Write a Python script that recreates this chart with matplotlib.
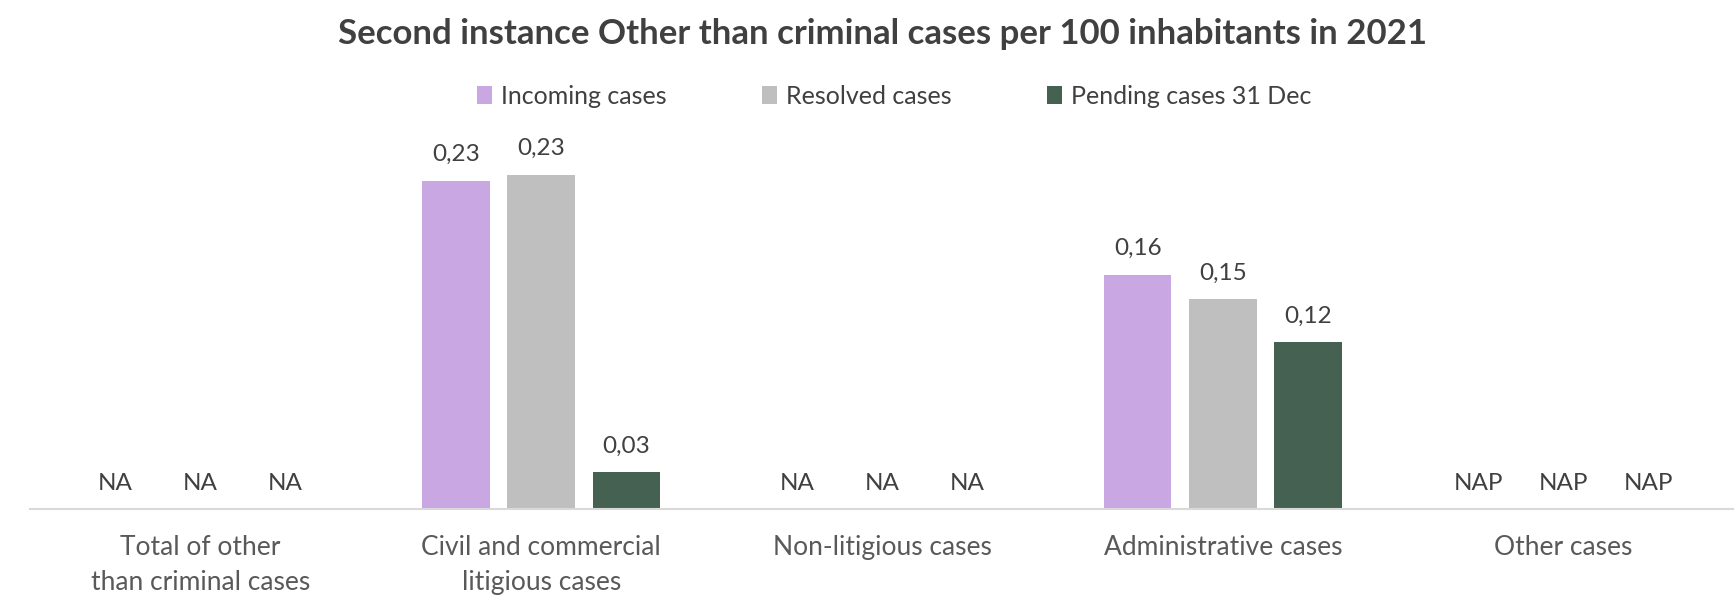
import numpy as np
import matplotlib
matplotlib.use("Agg")
import matplotlib.pyplot as plt
from matplotlib.patches import Patch

# Chart data (cases per 100 inhabitants, 2021)
categories = [
    "Total of other\nthan criminal cases",
    "Civil and commercial\nlitigious cases",
    "Non-litigious cases",
    "Administrative cases",
    "Other cases",
]
missing_text = ["NA", "", "NA", "", "NAP"]
incoming = [np.nan, 0.230, np.nan, 0.164, np.nan]
resolved = [np.nan, 0.234, np.nan, 0.147, np.nan]
pending = [np.nan, 0.026, np.nan, 0.117, np.nan]

series_names = ["Incoming cases", "Resolved cases", "Pending cases 31 Dec"]
colors = ["#C8A7E2", "#BFBFBF", "#456151"]

plt.rcParams["font.family"] = ["Lato", "DejaVu Sans"]
TEXT = "#404040"
LABEL = "#595959"

W, H = 1734, 595
fig = plt.figure(figsize=(W / 100, H / 100), dpi=100)
ax_left, ax_right = 30, 1734
ax_bottom, ax_top = 509, 130
ax = fig.add_axes([ax_left / W, (H - ax_bottom) / H,
                   (ax_right - ax_left) / W, (ax_bottom - ax_top) / H])

x = np.arange(len(categories))
offsets = [-0.25, 0.0, 0.25]
width = 0.198
fs_val = 17.5
fs_cat = 19
fs_leg = 18

for vals, off, col in zip([incoming, resolved, pending], offsets, colors):
    heights = np.nan_to_num(np.array(vals, dtype=float))
    ax.bar(x + off, heights, width=width, color=col, edgecolor="none", zorder=2)
    for xi, v, miss in zip(x, vals, missing_text):
        if np.isnan(v):
            txt, y = miss, 0.0
        else:
            txt, y = f"{v:.2f}".replace(".", ","), v
        ax.annotate(txt, (xi + off, y), xytext=(0, 26), textcoords="offset pixels",
                    ha="center", va="center", fontsize=fs_val, color=TEXT)

ax.set_xlim(-0.5, len(categories) - 0.5)
ax.set_ylim(0, 0.2654)
ax.set_yticks([])
for side in ["top", "right", "left"]:
    ax.spines[side].set_visible(False)
ax.spines["bottom"].set_color("#D9D9D9")
ax.spines["bottom"].set_linewidth(1.5)
ax.set_xticks(x)
ax.set_xticklabels(categories, fontsize=fs_cat, color=LABEL, linespacing=1.53)
ax.tick_params(axis="x", length=0, pad=18.5)

fig.text(882 / W, (H - 34) / H, "Second instance Other than criminal cases per 100 inhabitants in 2021",
         ha="center", va="center", fontsize=25, fontweight="bold", color=TEXT)

handles = [Patch(facecolor=c, edgecolor="none") for c in colors]
fig.legend(handles, series_names, loc="center", ncol=3, frameon=False,
           bbox_to_anchor=(894 / W, (H - 96) / H), fontsize=fs_leg, labelcolor=TEXT,
           handlelength=0.62, handleheight=0.7, handletextpad=0.35, columnspacing=3.8)

fig.savefig("out.png", dpi=100, facecolor="white")
